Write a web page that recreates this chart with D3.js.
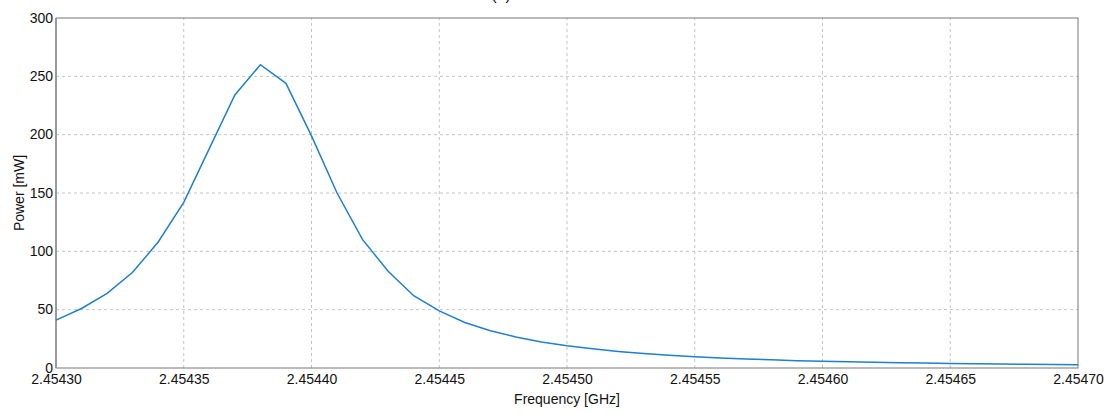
<!DOCTYPE html>
<html>
<head>
<meta charset="utf-8">
<script src="https://cdn.jsdelivr.net/npm/d3@7"></script>
<style>
  body { margin: 0; background: #fff; }
  svg { font-family: "Liberation Sans", Arial, sans-serif; }
</style>
</head>
<body>
<div class="chart"></div>
<script>
// frequency in GHz, one sample every 10 kHz
const freqs = d3.range(0, 41).map(i => +(2.45430 + i * 0.00001).toFixed(5))
const power = [
  41, 51, 64, 82, 108, 142, 188, 234, 260, 244,
  199, 150, 110, 83, 62, 49, 39, 32, 26.5, 22.3,
  19, 16.4, 14.2, 12.4, 10.9, 9.7, 8.6, 7.8, 7.0, 6.3,
  5.8, 5.3, 4.9, 4.5, 4.2, 3.9, 3.6, 3.4, 3.2, 3.0, 2.8
]
const xTicks = [2.45430, 2.45435, 2.45440, 2.45445, 2.45450, 2.45455, 2.45460, 2.45465, 2.45470]
const yTicks = [0, 50, 100, 150, 200, 250, 300]

const width = 1110, height = 413
const margin = { top: 18, right: 32, bottom: 45, left: 56 }

const svg = d3.select('.chart')
  .append('svg')
    .attr('width', width)
    .attr('height', height)

const x = d3.scaleLinear()
  .domain([2.45430, 2.45470])
  .range([margin.left, width - margin.right])

const y = d3.scaleLinear()
  .domain([0, 300])
  .range([height - margin.bottom, margin.top])

//grid
svg.append('g')
  .selectAll('line')
  .data(xTicks.slice(1, -1))
  .enter()
  .append('line')
    .attr('x1', d => x(d)).attr('x2', d => x(d))
    .attr('y1', y(0)).attr('y2', y(300))
    .style('stroke', '#c4c4c4')
    .style('stroke-dasharray', '3,3')

svg.append('g')
  .selectAll('line')
  .data(yTicks.slice(1, -1))
  .enter()
  .append('line')
    .attr('x1', x(2.45430)).attr('x2', x(2.45470))
    .attr('y1', d => y(d)).attr('y2', d => y(d))
    .style('stroke', '#c4c4c4')
    .style('stroke-dasharray', '3,3')

//frame
svg.append('rect')
  .attr('x', x(2.45430))
  .attr('y', y(300))
  .attr('width', x(2.45470) - x(2.45430))
  .attr('height', y(0) - y(300))
  .style('fill', 'none')
  .style('stroke', '#777')
  .style('stroke-width', 1)

svg.append('line')
  .attr('x1', x(2.45430)).attr('x2', x(2.45430))
  .attr('y1', y(0)).attr('y2', y(300))
  .style('stroke', '#999')
  .style('stroke-width', 2)

//axes
const xAxis = svg.append('g')
  .attr('transform', `translate(0, ${y(0)})`)
  .call(d3.axisBottom(x)
    .tickValues(xTicks)
    .tickSize(0)
    .tickPadding(6)
    .tickFormat(d3.format('.5f')))

const yAxis = svg.append('g')
  .attr('transform', `translate(${x(2.45430)}, 0)`)
  .call(d3.axisLeft(y)
    .tickValues(yTicks)
    .tickSize(0)
    .tickPadding(3))

;[xAxis, yAxis].forEach(a => {
  a.select('.domain').remove()
  a.selectAll('text')
    .style('font-family', '"Liberation Sans", Arial, sans-serif')
    .style('font-size', '14px')
    .style('fill', '#111')
})
yAxis.selectAll('text').attr('dy', '0.3em')

//line
svg.append('path')
  .datum(freqs.map((f, i) => [f, power[i]]))
  .attr('d', d3.line().x(d => x(d[0])).y(d => y(d[1])))
  .style('fill', 'none')
  .style('stroke', '#1f7fd0')
  .style('stroke-width', 1.5)

//labels
svg.append('text')
  .attr('x', (x(2.45430) + x(2.45470)) / 2)
  .attr('y', 404)
  .attr('text-anchor', 'middle')
  .style('font-size', '14px')
  .style('fill', '#111')
  .text('Frequency [GHz]')

svg.append('text')
  .attr('transform', `translate(24, ${(y(0) + y(300)) / 2}) rotate(-90)`)
  .attr('text-anchor', 'middle')
  .style('font-size', '14px')
  .style('fill', '#111')
  .text('Power [mW]')

svg.append('text')
  .attr('x', 501)
  .attr('y', 0)
  .attr('text-anchor', 'middle')
  .style('font-size', '16px')
  .style('fill', '#111')
  .text('(a)')
</script>
</body>
</html>
